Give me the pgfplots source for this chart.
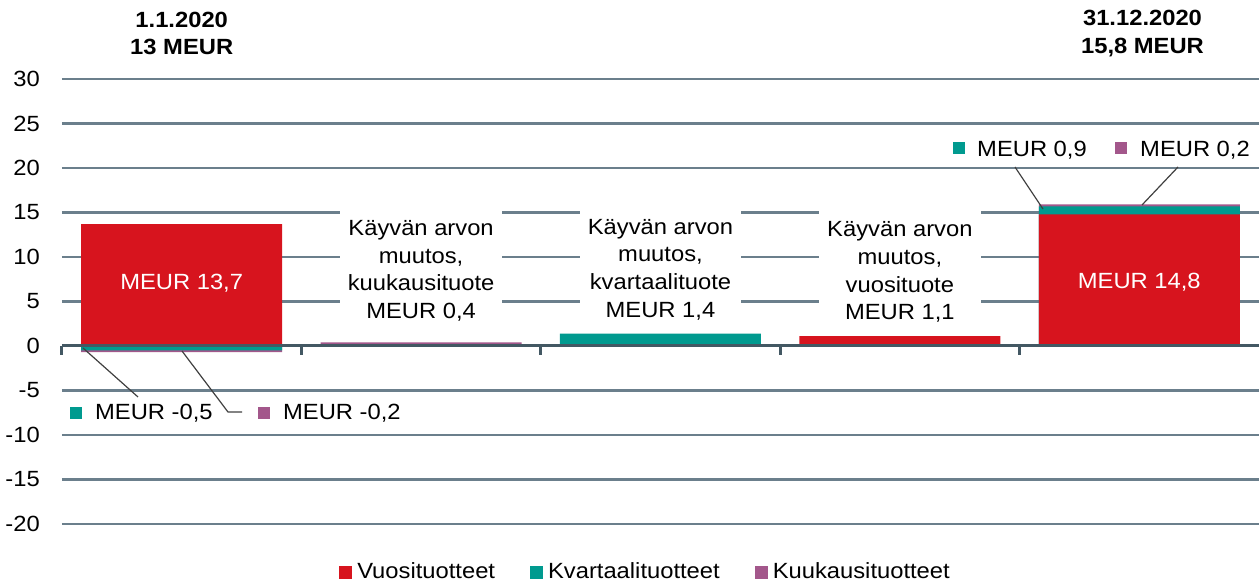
\documentclass[border=0pt]{standalone}
\usepackage{fontspec}
\setmainfont{Liberation Sans}[FakeStretch=1.08]
\usepackage{pgfplots}
\pgfplotsset{compat=1.18}
\definecolor{cred}{HTML}{D7141E}
\definecolor{cteal}{HTML}{009A8F}
\definecolor{cpurp}{HTML}{A3578B}
\definecolor{gridc}{HTML}{6B7F8C}
\definecolor{axisc}{HTML}{435863}
\definecolor{leadc}{HTML}{404040}
\begin{document}
\fontsize{22}{27.6}\selectfont
\begin{tikzpicture}[x=1pt,y=1pt]
\useasboundingbox (0,0) rectangle (1259,584);
\begin{axis}[
  at={(62pt,60pt)}, anchor=south west, scale only axis,
  width=1197pt, height=445pt,
  xmin=-0.5, xmax=4.5, ymin=-20, ymax=30,
  ytick={-20,-15,...,30},
  yticklabels={-20,-15,-10,-5,0,5,10,15,20,25,30},
  xtick=\empty,
  axis line style={draw=none},
  major tick length=0pt,
  ymajorgrids,
  grid style={gridc, line width=2.2pt},
  yticklabel style={inner sep=0pt, anchor=east, xshift=-22pt},
  clip=false,
  legend image code/.code={\fill[#1] (0pt,-6.5pt) rectangle (13pt,6.5pt); \path (16pt,0pt);},
  legend style={draw=none, fill=none, legend columns=3,
    at={(0.4875,-0.108)}, anchor=center,
    /tikz/every even column/.append style={column sep=33pt}},
]
% purple (cumulative tops), teal (cumulative), red
\addplot[ybar, bar width=201pt, bar shift=0pt, fill=cpurp, draw=none, forget plot]
  coordinates {(0,-0.7) (1,0.4) (4,15.9)};
\addplot[ybar, bar width=201pt, bar shift=0pt, fill=cteal, draw=none, forget plot]
  coordinates {(0,-0.5) (2,1.4) (4,15.7)};
\addplot[ybar, bar width=201pt, bar shift=0pt, fill=cred, draw=none, forget plot]
  coordinates {(0,13.7) (3,1.1) (4,14.8)};
\addlegendimage{fill=cred, draw=none}
\addlegendentry{Vuosituotteet}
\addlegendimage{fill=cteal, draw=none}
\addlegendentry{Kvartaalituotteet}
\addlegendimage{fill=cpurp, draw=none}
\addlegendentry{Kuukausituotteet}
% zero axis line with category ticks
\draw[axisc, line width=3pt] (axis cs:-0.5,0) -- (axis cs:4.5,0);
\draw[axisc, line width=3pt] (axis cs:-0.5,0) -- ++(0pt,-9pt);
\draw[axisc, line width=3pt] (axis cs:0.5,0) -- ++(0pt,-9pt);
\draw[axisc, line width=3pt] (axis cs:1.5,0) -- ++(0pt,-9pt);
\draw[axisc, line width=3pt] (axis cs:2.5,0) -- ++(0pt,-9pt);
\draw[axisc, line width=3pt] (axis cs:3.5,0) -- ++(0pt,-9pt);
% bar labels
\node[white] at (axis cs:0,7.1) {MEUR 13,7};
\node[white] at (axis cs:4,7.2) {MEUR 14,8};
\node[fill=white, align=center, inner xsep=8pt, inner ysep=13pt] at (axis cs:1,8.45)
  {Käyvän arvon\\muutos,\\kuukausituote\\MEUR 0,4};
\node[fill=white, align=center, inner xsep=8pt, inner ysep=10pt] at (axis cs:2,8.6)
  {Käyvän arvon\\muutos,\\kvartaalituote\\MEUR 1,4};
\node[fill=white, align=center, inner xsep=8pt, inner ysep=13pt] at (axis cs:3,8.3)
  {Käyvän arvon\\muutos,\\vuosituote\\MEUR 1,1};
\end{axis}
% header labels
\node[font=\bfseries, align=center] at (181.7,550.5) {1.1.2020\\13 MEUR};
\node[font=\bfseries, align=center] at (1142.5,550.5) {31.12.2020\\15,8 MEUR};
% callouts
\draw[leadc, line width=1.2pt] (83,236) -- (138,187);
\draw[leadc, line width=1.2pt] (182,233) -- (228,172) -- (242,172);
\draw[leadc, line width=1.2pt] (1015,417) -- (1043,375);
\draw[leadc, line width=1.2pt] (1178,417) -- (1142,379);
\fill[cteal] (70,165) rectangle (82,177);
\node[anchor=west, inner sep=0pt] at (95,171) {MEUR -0,5};
\fill[cpurp] (258,165) rectangle (270,177);
\node[anchor=west, inner sep=0pt] at (283,171) {MEUR -0,2};
\fill[cteal] (953,430) rectangle (965,442);
\node[anchor=west, inner sep=0pt] at (977,434) {MEUR 0,9};
\fill[cpurp] (1115,430) rectangle (1127,442);
\node[anchor=west, inner sep=0pt] at (1140,434) {MEUR 0,2};
\end{tikzpicture}
\end{document}
